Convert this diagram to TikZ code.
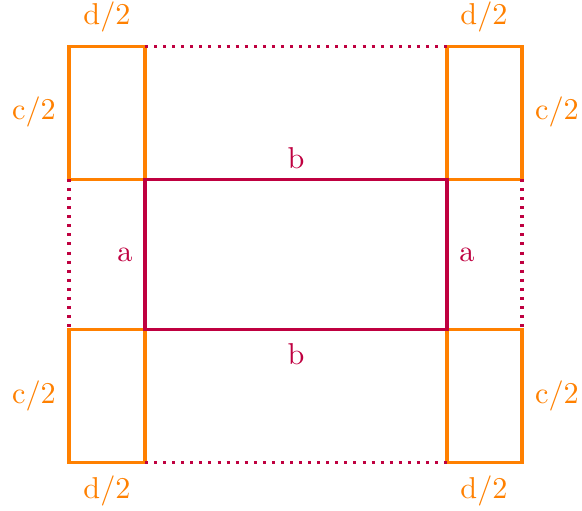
\documentclass[tikz,border=0pt]{standalone}
\usepackage{xcolor}
\begin{document}
\begin{tikzpicture}[x=0.331pt,y=-0.331pt,
  obox/.style={draw=orange,line width=1pt},
  pbox/.style={draw=purple,line width=1pt},
  pdot/.style={draw=purple,line width=1pt,dotted},
  olab/.style={text=orange,inner sep=0pt},
  plab/.style={text=purple,inner sep=0pt}]
\useasboundingbox (0,0) rectangle (582,510);
% corner boxes
\draw[obox] (69,46) rectangle (145,179);
\draw[obox] (447,46) rectangle (522,179);
\draw[obox] (69,329) rectangle (145,462);
\draw[obox] (447,329) rectangle (522,462);
% dotted sides
\draw[pdot] (145,46) -- (447,46);
\draw[pdot] (145,462) -- (447,462);
\draw[pdot] (69,179) -- (69,329);
\draw[pdot] (522,179) -- (522,329);
% central rectangle
\draw[pbox] (145,179) rectangle (447,329);
% labels
\node[olab] (d1) at (107,17) {d/2};
\node[olab] (d2) at (484,17) {d/2};
\node[olab] (d3) at (107,491) {d/2};
\node[olab] (d4) at (484,491) {d/2};
\node[olab] (c1) at (34,112) {c/2};
\node[olab] (c2) at (557,112) {c/2};
\node[olab] (c3) at (34,396) {c/2};
\node[olab] (c4) at (557,396) {c/2};
\node[plab] (b1) at (296,158) {b};
\node[plab] (b2) at (296,354) {b};
\node[plab] (a1) at (125,255) {a};
\node[plab] (a2) at (467,255) {a};
\end{tikzpicture}
\end{document}
